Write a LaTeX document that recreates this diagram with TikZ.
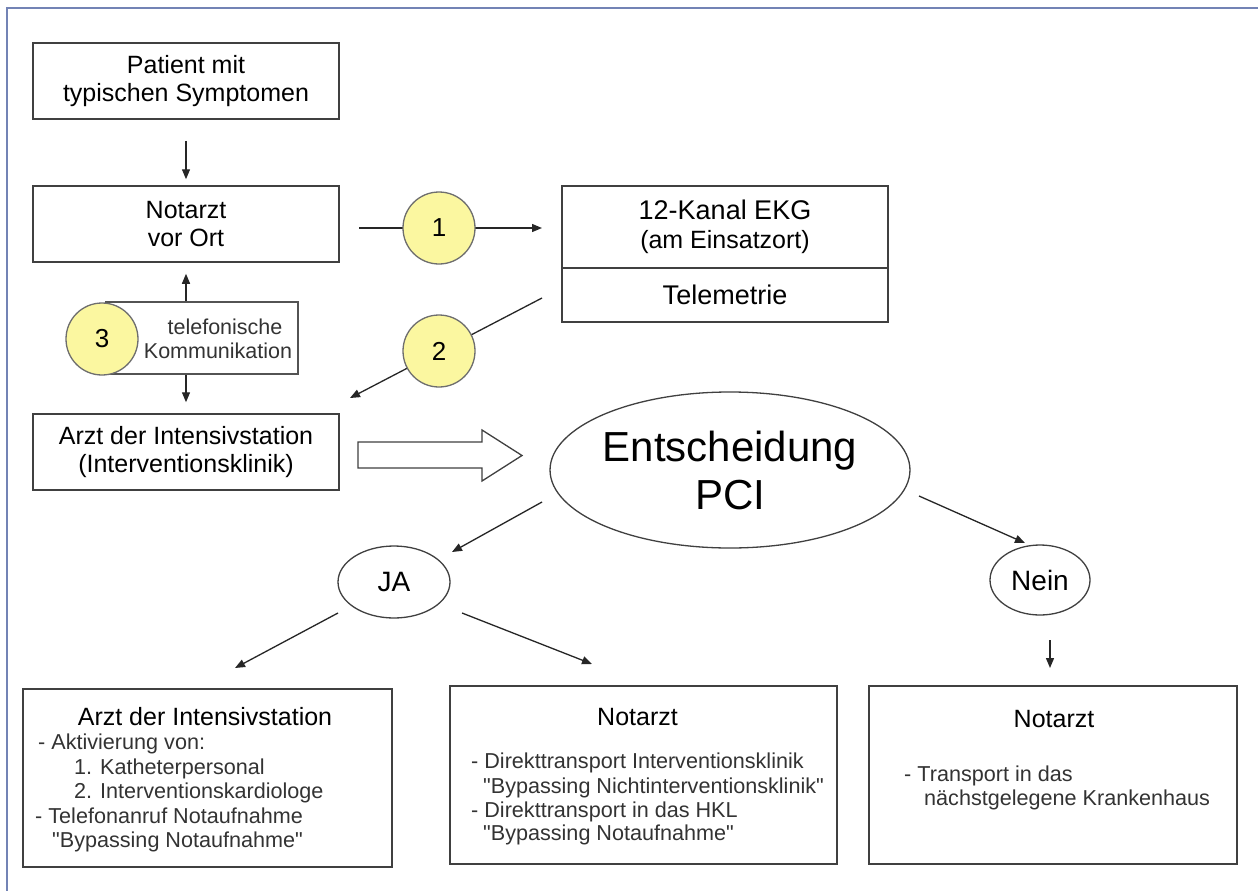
\documentclass[tikz,border=0pt]{standalone}
\usepackage{fontspec}
\setmainfont{Liberation Sans}[Ligatures=TeXOff]
\usetikzlibrary{arrows.meta,shapes.geometric,calc}
\definecolor{framec}{HTML}{7383B5}
\definecolor{boxc}{HTML}{404040}
\definecolor{numfill}{HTML}{FBF7A0}
\definecolor{numline}{HTML}{6E6E6E}
\definecolor{bodyc}{HTML}{333333}
\newcommand{\fsBox}{\fontsize{25}{28}\selectfont}
\newcommand{\fsBody}{\fontsize{21.6}{24.5}\selectfont}
\newcommand{\fsTel}{\fontsize{21.5}{24}\selectfont}
\newcommand{\fsBig}{\fontsize{42}{48}\selectfont}
\newcommand{\fsMid}{\fontsize{28}{30}\selectfont}
\begin{document}
\begin{tikzpicture}[x=1pt,y=-1pt,
  box/.style={draw=boxc, line width=1.5pt, fill=white, inner sep=0pt, align=center, font=\fsBox, text=black},
  oval/.style={draw=boxc, line width=1.3pt, ellipse, inner sep=0pt, align=center, text=black},
  num/.style={circle, draw=numline, line width=1.3pt, fill=numfill, minimum size=72pt, inner sep=0pt, font=\fontsize{26}{28}\selectfont},
  conn/.style={draw=black!85, line width=1.3pt, -{Triangle[length=10pt,width=8pt]}},
  body/.style={anchor=base west, inner sep=0pt, font=\fsBody, text=bodyc},
  ttl/.style={anchor=base, inner sep=0pt, font=\fsBox, text=black}]
\useasboundingbox (0,0) rectangle (1258,891);
\fill[white] (0,0) rectangle (1258,891);
\draw[framec, line width=2.2pt] (7,891) -- (7,8) -- (1258,8);

% left column boxes
\node[box, minimum width=306pt, minimum height=76pt] (pat) at (186,81) {Patient mit\\typischen Symptomen};
\node[box, minimum width=306pt, minimum height=76pt] (nav) at (186,224) {Notarzt\\vor Ort};
\node[box, minimum width=306pt, minimum height=76pt] (arzt) at (186,452) {Arzt der Intensivstation\\(Interventionsklinik)};
\node[box, minimum width=192pt, minimum height=72pt, draw=boxc!90] (tel) at (202,338) {};
\node[num] (n3) at (102,339) {3};
\node[inner sep=0pt, align=center, font=\fsTel, text=bodyc] (telt) at (218,339) {\hspace*{14pt}telefonische\\Kommunikation};

% EKG box
\node[box, minimum width=326pt, minimum height=82pt] (ekgtop) at (725,227)
  {{\fontsize{27}{29}\selectfont 12-Kanal EKG}\\[1pt]{\fsBox (am Einsatzort)}};
\node[box, minimum width=326pt, minimum height=54pt, font=\fontsize{27}{29}\selectfont] (ekgbot) at (725,295) {Telemetrie};

% decision
\node[oval, minimum width=356pt, minimum height=156pt, font=\fsBig] (dec) at (730,470) {Entscheidung\\PCI};
\node[oval, minimum width=112pt, minimum height=72pt, font=\fsMid] (ja) at (394,582) {JA};
\node[oval, minimum width=100pt, minimum height=70pt, font=\fsMid] (nein) at (1040,580) {Nein};

% bottom boxes
\node[box, minimum width=369pt, minimum height=178pt] (b1) at (207.5,778) {};
\node[box, minimum width=387pt, minimum height=178pt] (b2) at (643.5,775) {};
\node[box, minimum width=368pt, minimum height=178pt] (b3) at (1053,775) {};

\node[ttl] (b1t) at (205,725) {Arzt der Intensivstation};
\node[body] (b1a) at (38,749) {- Aktivierung von:};
\node[body] (b1b) at (74,774) {1. Katheterpersonal};
\node[body] (b1c) at (74,798) {2. Interventionskardiologe};
\node[body] (b1d) at (35,823) {- Telefonanruf Notaufnahme};
\node[body] (b1e) at (52,847) {"Bypassing Notaufnahme"};

\node[ttl] (b2t) at (637.5,725) {Notarzt};
\node[body] (b2a) at (471,768) {- Direkttransport Interventionsklinik};
\node[body] (b2b) at (483,793) {"Bypassing Nichtinterventionsklinik"};
\node[body] (b2c) at (471,817) {- Direkttransport in das HKL};
\node[body] (b2d) at (483,840) {"Bypassing Notaufnahme"};

\node[ttl] (b3t) at (1054,727) {Notarzt};
\node[body] (b3a) at (904,781) {- Transport in das};
\node[body] (b3b) at (924,805) {nächstgelegene Krankenhaus};

% connectors
\draw[conn, shorten <=21pt, shorten >=6pt] (pat.south) -- (nav.south |- nav.north);
\draw[conn, shorten >=11pt] (tel.north -| nav.south) -- (nav.south);
\draw[conn, shorten >=11pt] (tel.south -| arzt.north) -- (arzt.north);

\coordinate (a1s) at (359,228);
\coordinate (a1e) at (542,228);
\coordinate (a2s) at (542,298);
\coordinate (a2e) at (350,398);
\draw[conn] (a1s) -- (a1e);
\draw[conn] (a2s) -- (a2e);
\node[num] (n1) at (439,228) {1};
\node[num] (n2) at (439,351) {2};

\draw[boxc, line width=1.3pt, fill=white] (358,442) -- (482,442) -- (482,430) -- (522,455.5) -- (482,481) -- (482,468) -- (358,468) -- cycle;

\coordinate (djs) at (542,502);
\coordinate (dje) at (452,552);
\coordinate (dns) at (919,496);
\coordinate (dne) at (1025,543);
\coordinate (jls) at (338,613);
\coordinate (jle) at (235,668);
\coordinate (jrs) at (462,613);
\coordinate (jre) at (592,664);
\coordinate (nds) at (1050,640);
\coordinate (nde) at (1050,668);
\draw[conn] (djs) -- (dje);
\draw[conn] (dns) -- (dne);
\draw[conn] (jls) -- (jle);
\draw[conn] (jrs) -- (jre);
\draw[conn] (nds) -- (nde);
\end{tikzpicture}
\end{document}
